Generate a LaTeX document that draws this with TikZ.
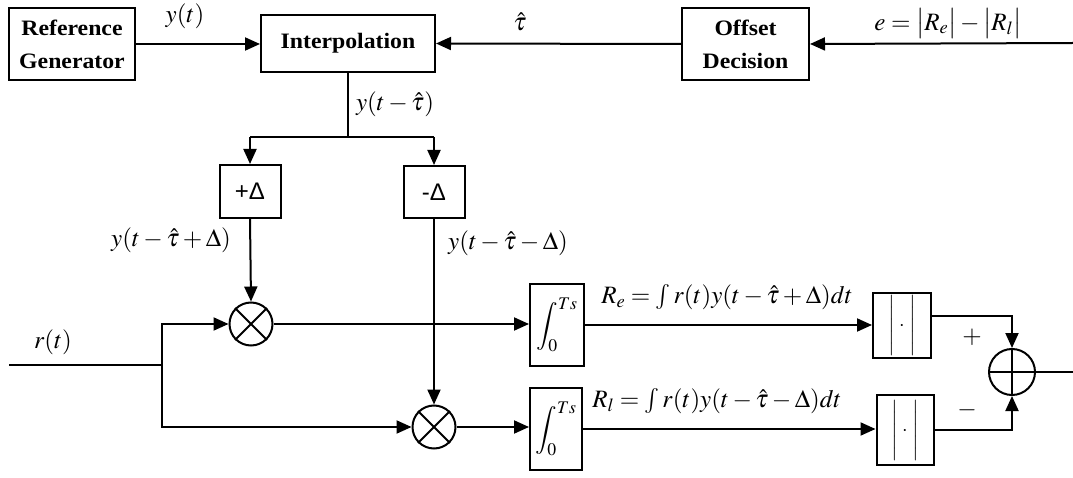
\documentclass[tikz,border=0pt]{standalone}
\usepackage{mathptmx}
\usepackage{fontspec}
\setmainfont{Liberation Serif}[FakeStretch=1.08]
\newfontfamily\sansf{Liberation Sans}
\usetikzlibrary{arrows.meta,calc}
\tikzset{
  blk/.style={draw, line width=2pt, inner sep=0pt, align=center, font=\bfseries\fontsize{22}{33}\selectfont},
  sbox/.style={draw, line width=2pt, inner sep=0pt, font=\sansf\fontsize{24}{26}\selectfont},
  ibox/.style={draw, line width=2pt, inner sep=0pt, font=\fontsize{24}{28}\selectfont},
  abox/.style={draw, line width=2pt, inner sep=0pt, font=\fontsize{20}{24}\selectfont},
  mlt/.style={circle, draw, line width=2pt, minimum size=43pt, inner sep=0pt},
  lbl/.style={inner sep=0pt, font=\fontsize{25}{28}\selectfont},
  wire/.style={line width=2pt},
  arr/.style={wire, -{Triangle[length=15pt,width=13pt]}}
}
\begin{document}
\begin{tikzpicture}[x=1pt,y=-1pt]
\useasboundingbox (0,0) rectangle (1073,478);
% blocks
\node[blk, minimum width=126pt, minimum height=72pt] (ref) at (72,44) {Reference\\Generator};
\node[blk, minimum width=174pt, minimum height=57pt] (int) at (348,43.5) {Interpolation};
\node[blk, minimum width=127pt, minimum height=72pt] (off) at (745.5,44) {Offset\\Decision};
\node[sbox, minimum width=61pt, minimum height=53pt] (pd) at (250,191.5) {+Δ};
\node[sbox, minimum width=61pt, minimum height=52pt] (md) at (434,192) {-Δ};
\node[mlt] (m1) at (251,324) {};
\node[mlt] (m2) at (434,427) {};
\draw[wire] (m1.north east) -- (m1.south west) (m1.north west) -- (m1.south east);
\draw[wire] (m2.north east) -- (m2.south west) (m2.north west) -- (m2.south east);
\node[ibox, minimum width=54pt, minimum height=82pt] (i1) at (557,325) {$\displaystyle\int_0^{Ts}$};
\node[ibox, minimum width=52pt, minimum height=82pt] (i2) at (556,429) {$\displaystyle\int_0^{Ts}$};
\node[abox, minimum width=58pt, minimum height=65pt] (a1) at (902,325.5) {$\Biggl|\;\cdot\;\Biggr|$};
\node[abox, minimum width=57pt, minimum height=70pt] (a2) at (905,430) {$\Biggl|\;\cdot\;\Biggr|$};
\node[mlt, minimum size=46pt] (sum) at (1012,372) {};
\draw[wire] (sum.north) -- (sum.south) (sum.west) -- (sum.east);
% coordinates
\coordinate (ein) at (1073,43);
\coordinate (sp) at (348,137);
\coordinate (rin) at (9,365);
\coordinate (rsp) at (162,365);
\coordinate (out) at (1073,372);
% connectors
\draw[arr] (ref.east) -- (ref.east -| int.west);
\draw[arr] (ein) -- (off.east);
\draw[arr] (off.west) -- (int.east);
\draw[wire] (int.south) -- (sp);
\draw[wire] (pd.north |- sp) -- (md.north |- sp);
\draw[arr] (pd.north |- sp) -- (pd.north);
\draw[arr] (md.north |- sp) -- (md.north);
\draw[arr] (pd.south) -- (m1.north);
\draw[arr] (md.south) -- (m2.north);
\draw[wire] (rin) -- (rsp);
\draw[arr] (rsp) |- (m1.west);
\draw[arr] (rsp) |- (m2.west);
\draw[arr] (m1.east) -- (m1.east -| i1.west);
\draw[arr] (m2.east) -- (m2.east -| i2.west);
\draw[arr] (i1.east) -- (i1.east -| a1.west);
\draw[arr] (i2.east) -- (i2.east -| a2.west);
\draw[arr] ($(a1.east)+(0,-10)$) -| (sum.north);
\draw[arr] (a2.east) -| (sum.south);
\draw[wire] (sum.east) -- (out);
% labels
\node[lbl] (ly) at (185,16) {$y(t)$};
\node[lbl] (lt) at (520,22) {$\hat\tau$};
\node[lbl] (le) at (948,24) {$e=\bigl|R_e\bigr|-\bigl|R_l\bigr|$};
\node[lbl] (lyt) at (395,104) {$y(t-\hat\tau)$};
\node[lbl] (lyp) at (171,240) {$y(t-\hat\tau+\Delta)$};
\node[lbl] (lym) at (508,243) {$y(t-\hat\tau-\Delta)$};
\node[lbl] (lre) at (727,297) {$R_e=\int r(t)y(t-\hat\tau+\Delta)dt$};
\node[lbl] (lrl) at (717,401) {$R_l=\int r(t)y(t-\hat\tau-\Delta)dt$};
\node[lbl] (lr) at (53,342) {$r(t)$};
\node[lbl] (lp) at (972,337) {$+$};
\node[lbl] (lm) at (967,410) {$-$};
\end{tikzpicture}
\end{document}
